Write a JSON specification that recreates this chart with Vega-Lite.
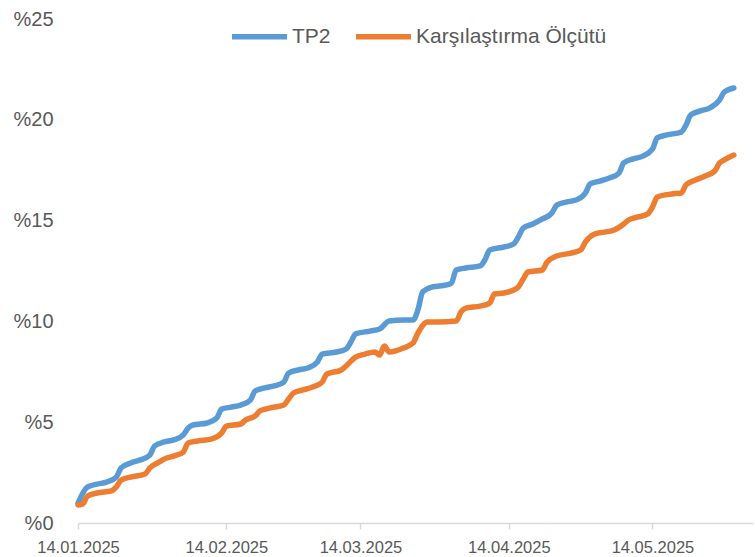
{
 "$schema": "https://vega.github.io/schema/vega-lite/v6.json",
 "width": 675, "height": 504,
 "autosize": {"type": "none"},
 "padding": {"left": 78, "top": 19, "right": 2, "bottom": 34},
 "background": "white",
 "config": {"view": {"stroke": null}, "font": "Liberation Sans"},
 "data": {"values": [
  {"s":"TP2","d":"2025-01-14","v":0.99},{"s":"TP2","d":"2025-01-16","v":1.79},{"s":"TP2","d":"2025-01-18","v":1.93},{"s":"TP2","d":"2025-01-20","v":2.03},{"s":"TP2","d":"2025-01-22","v":2.28},{"s":"TP2","d":"2025-01-23","v":2.73},{"s":"TP2","d":"2025-01-25","v":2.98},{"s":"TP2","d":"2025-01-27","v":3.13},{"s":"TP2","d":"2025-01-29","v":3.37},{"s":"TP2","d":"2025-01-30","v":3.82},
  {"s":"TP2","d":"2025-02-01","v":4.02},{"s":"TP2","d":"2025-02-03","v":4.12},{"s":"TP2","d":"2025-02-05","v":4.37},{"s":"TP2","d":"2025-02-06","v":4.71},{"s":"TP2","d":"2025-02-07","v":4.86},{"s":"TP2","d":"2025-02-10","v":4.96},{"s":"TP2","d":"2025-02-12","v":5.21},{"s":"TP2","d":"2025-02-13","v":5.65},{"s":"TP2","d":"2025-02-15","v":5.75},{"s":"TP2","d":"2025-02-17","v":5.85},{"s":"TP2","d":"2025-02-19","v":6.10},{"s":"TP2","d":"2025-02-20","v":6.55},{"s":"TP2","d":"2025-02-22","v":6.70},{"s":"TP2","d":"2025-02-24","v":6.80},{"s":"TP2","d":"2025-02-26","v":6.99},{"s":"TP2","d":"2025-02-27","v":7.44},
  {"s":"TP2","d":"2025-03-01","v":7.59},{"s":"TP2","d":"2025-03-03","v":7.69},{"s":"TP2","d":"2025-03-05","v":7.99},{"s":"TP2","d":"2025-03-06","v":8.38},{"s":"TP2","d":"2025-03-09","v":8.48},{"s":"TP2","d":"2025-03-11","v":8.63},{"s":"TP2","d":"2025-03-12","v":8.98},{"s":"TP2","d":"2025-03-13","v":9.38},{"s":"TP2","d":"2025-03-16","v":9.52},{"s":"TP2","d":"2025-03-18","v":9.62},{"s":"TP2","d":"2025-03-20","v":10.02},{"s":"TP2","d":"2025-03-23","v":10.07},{"s":"TP2","d":"2025-03-25","v":10.07},{"s":"TP2","d":"2025-03-26","v":10.57},{"s":"TP2","d":"2025-03-27","v":11.46},{"s":"TP2","d":"2025-03-29","v":11.71},
  {"s":"TP2","d":"2025-04-01","v":11.81},{"s":"TP2","d":"2025-04-02","v":11.90},{"s":"TP2","d":"2025-04-03","v":12.55},{"s":"TP2","d":"2025-04-05","v":12.65},{"s":"TP2","d":"2025-04-08","v":12.75},{"s":"TP2","d":"2025-04-09","v":13.05},{"s":"TP2","d":"2025-04-10","v":13.54},{"s":"TP2","d":"2025-04-13","v":13.69},{"s":"TP2","d":"2025-04-15","v":13.84},{"s":"TP2","d":"2025-04-16","v":14.19},{"s":"TP2","d":"2025-04-17","v":14.63},{"s":"TP2","d":"2025-04-19","v":14.83},{"s":"TP2","d":"2025-04-21","v":15.08},{"s":"TP2","d":"2025-04-23","v":15.38},{"s":"TP2","d":"2025-04-24","v":15.77},{"s":"TP2","d":"2025-04-26","v":15.92},{"s":"TP2","d":"2025-04-28","v":16.02},{"s":"TP2","d":"2025-04-30","v":16.37},
  {"s":"TP2","d":"2025-05-01","v":16.82},{"s":"TP2","d":"2025-05-03","v":16.96},{"s":"TP2","d":"2025-05-05","v":17.11},{"s":"TP2","d":"2025-05-07","v":17.36},{"s":"TP2","d":"2025-05-08","v":17.86},{"s":"TP2","d":"2025-05-10","v":18.06},{"s":"TP2","d":"2025-05-12","v":18.20},{"s":"TP2","d":"2025-05-14","v":18.55},{"s":"TP2","d":"2025-05-15","v":19.10},{"s":"TP2","d":"2025-05-17","v":19.25},{"s":"TP2","d":"2025-05-20","v":19.39},{"s":"TP2","d":"2025-05-21","v":19.74},{"s":"TP2","d":"2025-05-22","v":20.24},{"s":"TP2","d":"2025-05-24","v":20.44},{"s":"TP2","d":"2025-05-26","v":20.59},{"s":"TP2","d":"2025-05-28","v":20.98},{"s":"TP2","d":"2025-05-29","v":21.38},{"s":"TP2","d":"2025-05-31","v":21.58},
  {"s":"Karşılaştırma Ölçütü","d":"2025-01-14","v":0.89},{"s":"Karşılaştırma Ölçütü","d":"2025-01-15","v":0.94},{"s":"Karşılaştırma Ölçütü","d":"2025-01-16","v":1.34},{"s":"Karşılaştırma Ölçütü","d":"2025-01-18","v":1.49},{"s":"Karşılaştırma Ölçütü","d":"2025-01-21","v":1.59},{"s":"Karşılaştırma Ölçütü","d":"2025-01-22","v":1.79},{"s":"Karşılaştırma Ölçütü","d":"2025-01-23","v":2.13},{"s":"Karşılaştırma Ölçütü","d":"2025-01-25","v":2.28},{"s":"Karşılaştırma Ölçütü","d":"2025-01-28","v":2.43},{"s":"Karşılaştırma Ölçütü","d":"2025-01-29","v":2.73},{"s":"Karşılaştırma Ölçütü","d":"2025-01-31","v":3.03},
  {"s":"Karşılaştırma Ölçütü","d":"2025-02-01","v":3.17},{"s":"Karşılaştırma Ölçütü","d":"2025-02-03","v":3.32},{"s":"Karşılaştırma Ölçütü","d":"2025-02-05","v":3.52},{"s":"Karşılaştırma Ölçütü","d":"2025-02-06","v":3.97},{"s":"Karşılaştırma Ölçütü","d":"2025-02-08","v":4.07},{"s":"Karşılaştırma Ölçütü","d":"2025-02-11","v":4.17},{"s":"Karşılaştırma Ölçütü","d":"2025-02-13","v":4.46},{"s":"Karşılaştırma Ölçütü","d":"2025-02-14","v":4.81},{"s":"Karşılaştırma Ölçütü","d":"2025-02-17","v":4.91},{"s":"Karşılaştırma Ölçütü","d":"2025-02-18","v":5.11},{"s":"Karşılaştırma Ölçütü","d":"2025-02-20","v":5.31},{"s":"Karşılaştırma Ölçütü","d":"2025-02-21","v":5.56},{"s":"Karşılaştırma Ölçütü","d":"2025-02-23","v":5.70},{"s":"Karşılaştırma Ölçütü","d":"2025-02-26","v":5.85},{"s":"Karşılaştırma Ölçütü","d":"2025-02-27","v":6.15},{"s":"Karşılaştırma Ölçütü","d":"2025-02-28","v":6.45},
  {"s":"Karşılaştırma Ölçütü","d":"2025-03-02","v":6.60},{"s":"Karşılaştırma Ölçütü","d":"2025-03-04","v":6.75},{"s":"Karşılaştırma Ölçütü","d":"2025-03-06","v":6.99},{"s":"Karşılaştırma Ölçütü","d":"2025-03-07","v":7.39},{"s":"Karşılaştırma Ölçütü","d":"2025-03-10","v":7.59},{"s":"Karşılaştırma Ölçütü","d":"2025-03-11","v":7.79},{"s":"Karşılaştırma Ölçütü","d":"2025-03-13","v":8.23},{"s":"Karşılaştırma Ölçütü","d":"2025-03-15","v":8.38},{"s":"Karşılaştırma Ölçütü","d":"2025-03-17","v":8.48},{"s":"Karşılaştırma Ölçütü","d":"2025-03-18","v":8.33},{"s":"Karşılaştırma Ölçütü","d":"2025-03-19","v":8.78},{"s":"Karşılaştırma Ölçütü","d":"2025-03-20","v":8.48},{"s":"Karşılaştırma Ölçütü","d":"2025-03-23","v":8.68},{"s":"Karşılaştırma Ölçütü","d":"2025-03-25","v":8.93},{"s":"Karşılaştırma Ölçütü","d":"2025-03-26","v":9.42},{"s":"Karşılaştırma Ölçütü","d":"2025-03-28","v":9.97},{"s":"Karşılaştırma Ölçütü","d":"2025-03-30","v":9.97},
  {"s":"Karşılaştırma Ölçütü","d":"2025-04-03","v":10.02},{"s":"Karşılaştırma Ölçütü","d":"2025-04-04","v":10.47},{"s":"Karşılaştırma Ölçütü","d":"2025-04-05","v":10.66},{"s":"Karşılaştırma Ölçütü","d":"2025-04-08","v":10.76},{"s":"Karşılaştırma Ölçütü","d":"2025-04-10","v":10.91},{"s":"Karşılaştırma Ölçütü","d":"2025-04-11","v":11.36},{"s":"Karşılaştırma Ölçütü","d":"2025-04-13","v":11.41},{"s":"Karşılaştırma Ölçütü","d":"2025-04-15","v":11.56},{"s":"Karşılaştırma Ölçütü","d":"2025-04-16","v":11.71},{"s":"Karşılaştırma Ölçütü","d":"2025-04-17","v":12.10},{"s":"Karşılaştırma Ölçütü","d":"2025-04-18","v":12.45},{"s":"Karşılaştırma Ölçütü","d":"2025-04-21","v":12.55},{"s":"Karşılaştırma Ölçütü","d":"2025-04-22","v":12.95},{"s":"Karşılaştırma Ölçütü","d":"2025-04-24","v":13.24},{"s":"Karşılaştırma Ölçütü","d":"2025-04-27","v":13.39},{"s":"Karşılaştırma Ölçütü","d":"2025-04-29","v":13.54},{"s":"Karşılaştırma Ölçütü","d":"2025-04-30","v":13.94},
  {"s":"Karşılaştırma Ölçütü","d":"2025-05-02","v":14.34},{"s":"Karşılaştırma Ölçütü","d":"2025-05-04","v":14.43},{"s":"Karşılaştırma Ölçütü","d":"2025-05-06","v":14.53},{"s":"Karşılaştırma Ölçütü","d":"2025-05-08","v":14.83},{"s":"Karşılaştırma Ölçütü","d":"2025-05-09","v":15.03},{"s":"Karşılaştırma Ölçütü","d":"2025-05-11","v":15.18},{"s":"Karşılaştırma Ölçütü","d":"2025-05-13","v":15.33},{"s":"Karşılaştırma Ölçütü","d":"2025-05-14","v":15.67},{"s":"Karşılaştırma Ölçütü","d":"2025-05-15","v":16.17},{"s":"Karşılaştırma Ölçütü","d":"2025-05-18","v":16.32},{"s":"Karşılaştırma Ölçütü","d":"2025-05-20","v":16.37},{"s":"Karşılaştırma Ölçütü","d":"2025-05-21","v":16.77},{"s":"Karşılaştırma Ölçütü","d":"2025-05-23","v":17.01},{"s":"Karşılaştırma Ölçütü","d":"2025-05-25","v":17.21},{"s":"Karşılaştırma Ölçütü","d":"2025-05-27","v":17.46},{"s":"Karşılaştırma Ölçütü","d":"2025-05-28","v":17.86},{"s":"Karşılaştırma Ölçütü","d":"2025-05-29","v":18.01},{"s":"Karşılaştırma Ölçütü","d":"2025-05-31","v":18.25}
 ]},
 "mark": {"type": "line", "interpolate": "monotone", "strokeWidth": 5.5, "strokeCap": "round", "strokeJoin": "round"},
 "encoding": {
  "x": {"field": "d", "type": "temporal",
   "scale": {"type": "utc", "domain": [{"year": 2025, "month": 1, "date": 14, "utc": true}, {"year": 2025, "month": 6, "date": 4, "utc": true}]},
   "axis": {"title": null, "grid": false,
    "values": [{"year": 2025, "month": 1, "date": 14, "utc": true}, {"year": 2025, "month": 2, "date": 14, "utc": true}, {"year": 2025, "month": 3, "date": 14, "utc": true}, {"year": 2025, "month": 4, "date": 14, "utc": true}, {"year": 2025, "month": 5, "date": 14, "utc": true}],
    "labelExpr": "utcFormat(datum.value, '%d.%m.%Y')",
    "domainColor": "#D9D9D9", "domainWidth": 1.5, "tickColor": "#D9D9D9", "tickWidth": 1.5, "tickSize": 6,
    "labelColor": "#595959", "labelFontSize": 16.5, "labelPadding": 10, "labelFlush": false, "labelOverlap": false}},
  "y": {"field": "v", "type": "quantitative",
   "scale": {"domain": [0, 25], "nice": false},
   "axis": {"title": null, "grid": false, "domain": false, "ticks": false, "values": [0, 5, 10, 15, 20, 25],
    "labelExpr": "'%' + datum.value", "labelColor": "#595959", "labelFontSize": 20, "labelPadding": 25}},
  "color": {"field": "s", "type": "nominal",
   "scale": {"domain": ["TP2", "Karşılaştırma Ölçütü"], "range": ["#5B9BD5", "#ED7D31"]},
   "legend": {"title": null, "orient": "none", "legendX": 151, "legendY": -13, "direction": "horizontal",
    "symbolType": "stroke", "symbolSize": 3025, "symbolStrokeWidth": 5.5, "labelFontSize": 21, "labelColor": "#595959",
    "labelOffset": 2, "labelLimit": 400, "columnPadding": 14}}
 }
}
